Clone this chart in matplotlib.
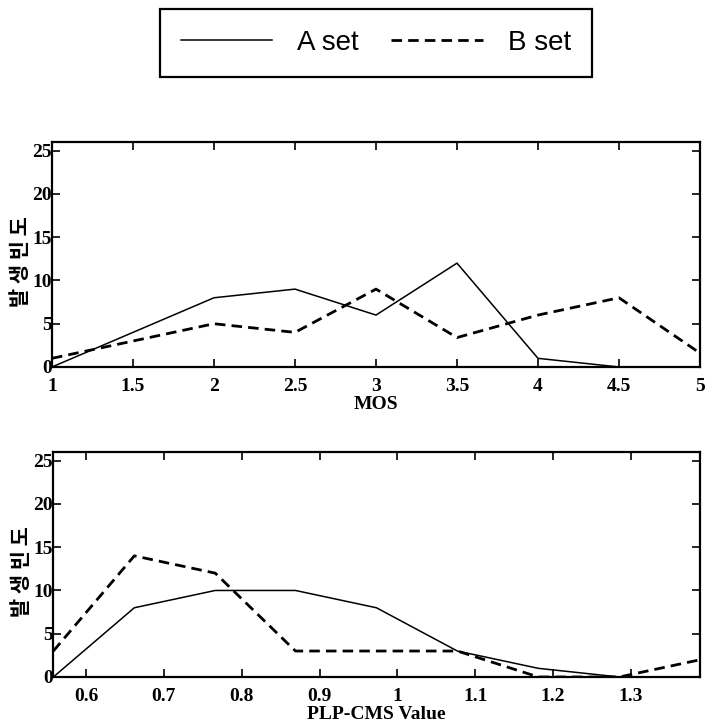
import matplotlib
matplotlib.use("Agg")
import matplotlib.pyplot as plt
from matplotlib.ticker import MultipleLocator, FormatStrFormatter

OUTPUT_FILE = "out.png"

# MOS histogram (top panel)
mos_x = [1, 1.5, 2, 2.5, 3, 3.5, 4, 4.5, 5]
mos_a = [0, 4, 8, 9, 6, 12, 1, 0, 0]
mos_b = [1, 3, 5, 4, 9, 3.4, 6, 8, 1.6]

# PLP-CMS histogram (bottom panel)
plp_x = [0.558, 0.662, 0.766, 0.869, 0.973, 1.077, 1.181, 1.285, 1.389]
plp_a = [0, 8, 10, 10, 8, 3, 1, 0, 0]
plp_b = [3, 14, 12, 3, 3, 3, 0, 0, 2]

ylabel_text = "발 생 빈 도"
legend_labels = ["A set", "B set"]

SERIF = "Liberation Serif"
KOREAN = ["Noto Sans CJK KR", "DejaVu Sans"]


def style_axes(ax, xlim, xstep, xlabel):
    ax.set_xlim(*xlim)
    ax.set_ylim(0, 26)
    ax.xaxis.set_major_locator(MultipleLocator(xstep))
    ax.yaxis.set_major_locator(MultipleLocator(5))
    ax.xaxis.set_major_formatter(FormatStrFormatter("%g"))
    ax.tick_params(direction="in", top=True, right=True, length=6, width=1.2)
    ax.tick_params(axis="x", pad=8)
    ax.tick_params(axis="y", pad=0)
    for s in ax.spines.values():
        s.set_linewidth(1.6)
    for lab in ax.get_xticklabels() + ax.get_yticklabels():
        lab.set_fontfamily(SERIF)
        lab.set_fontweight("bold")
        lab.set_fontsize(14)
    ax.set_xlabel(xlabel, fontfamily=SERIF, fontweight="bold", fontsize=14, labelpad=1)
    ax.set_ylabel(ylabel_text, family=KOREAN, fontweight="bold", fontsize=15)
    ax.yaxis.set_label_coords(-0.032, 0.47)


def plot_histograms():
    fig = plt.figure(figsize=(7.09, 7.26), dpi=100)
    ax1 = fig.add_axes([0.0733, 0.4945, 0.914, 0.3099])
    ax2 = fig.add_axes([0.0748, 0.0675, 0.9125, 0.3099])

    dash = (0, (3.8, 2.2))
    la, = ax1.plot(mos_x, mos_a, color="black", lw=1.1)
    lb, = ax1.plot(mos_x, mos_b, color="black", lw=2.0, linestyle=dash)
    ax2.plot(plp_x, plp_a, color="black", lw=1.1)
    ax2.plot(plp_x, plp_b, color="black", lw=2.0, linestyle=dash)

    style_axes(ax1, (1, 5), 0.5, "MOS")
    style_axes(ax2, (0.5576, 1.3886), 0.1, "PLP-CMS Value")
    ax2.set_xticks([0.6, 0.7, 0.8, 0.9, 1.0, 1.1, 1.2, 1.3])
    ax2.set_xticklabels(["0.6", "0.7", "0.8", "0.9", "1", "1.1", "1.2", "1.3"],
                        fontfamily=SERIF, fontweight="bold", fontsize=14)

    leg = fig.legend([la, lb], legend_labels, ncol=2, loc="center",
                     bbox_to_anchor=(0.53, 0.941), frameon=True, fancybox=False,
                     edgecolor="black", framealpha=1, handlelength=3.3,
                     handletextpad=0.9, columnspacing=1.15, borderpad=0.75,
                     borderaxespad=0, prop={"family": "Liberation Sans", "size": 20})
    leg.get_frame().set_linewidth(1.6)

    fig.savefig(OUTPUT_FILE, dpi=100)


if __name__ == "__main__":
    plot_histograms()
